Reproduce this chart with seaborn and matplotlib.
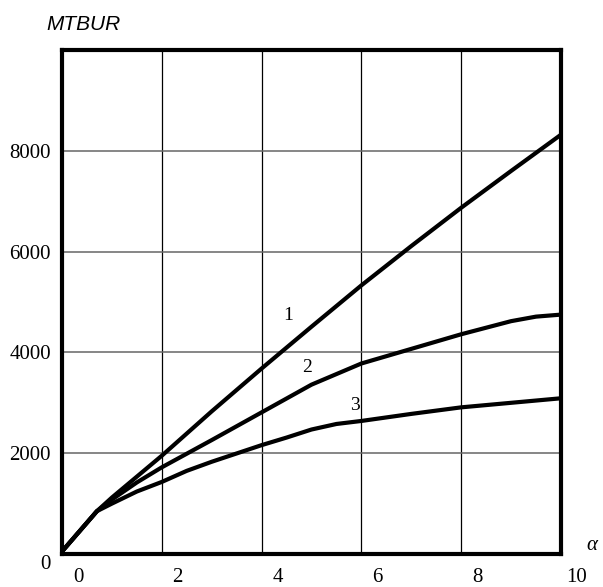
import numpy as np
import pandas as pd
import matplotlib
matplotlib.use('Agg')
import matplotlib.pyplot as plt
import matplotlib.transforms as mtransforms
import seaborn as sns

# values
alpha_1 = [0, 0.7, 1, 2, 3, 4, 5, 6, 7, 8, 9, 10]
mtbur_1 = [50, 850, 1120, 1950, 2830, 3680, 4510, 5330, 6110, 6870, 7600, 8320]

alpha_2 = [0, 0.7, 1, 1.5, 2, 2.5, 3, 4, 5, 6, 7, 8, 9, 9.5, 10]
mtbur_2 = [50, 850, 1080, 1420, 1720, 1990, 2260, 2810, 3360, 3780, 4070, 4360, 4620, 4710, 4750]

alpha_3 = [0, 0.7, 1, 1.5, 2, 2.5, 3, 4, 4.5, 5, 5.5, 6, 7, 8, 9, 10]
mtbur_3 = [50, 850, 1000, 1240, 1430, 1650, 1830, 2160, 2310, 2470, 2580, 2640, 2780, 2910, 3000, 3090]

curve_names = ['1', '2', '3']
label_pos = [(4.53, 4730), (4.91, 3700), (5.87, 2950)]

df = pd.concat([
    pd.DataFrame({'alpha': alpha_1, 'mtbur': mtbur_1, 'curve': '1'}),
    pd.DataFrame({'alpha': alpha_2, 'mtbur': mtbur_2, 'curve': '2'}),
    pd.DataFrame({'alpha': alpha_3, 'mtbur': mtbur_3, 'curve': '3'}),
])

sns.set_style('white')
plt.rcParams['font.family'] = ['Liberation Serif', 'DejaVu Serif']
plt.rcParams['text.color'] = 'black'
plt.rcParams['xtick.color'] = 'black'
plt.rcParams['ytick.color'] = 'black'

fig = plt.figure(figsize=(6.03, 5.87), dpi=100)
ax = fig.add_axes([0.1028, 0.0562, 0.8275, 0.8586])

sns.lineplot(data=df, x='alpha', y='mtbur', units='curve', estimator=None,
             color='black', linewidth=3, ax=ax, legend=False,
             solid_joinstyle='round', solid_capstyle='round')

for name, (x, y) in zip(curve_names, label_pos):
    ax.text(x, y, name, fontsize=14, ha='center', va='center')

ax.set_xlim(0, 10)
ax.set_ylim(0, 10000)
ax.set_xticks([0, 2, 4, 6, 8, 10])
ax.set_yticks([0, 2000, 4000, 6000, 8000])

for x in [2, 4, 6, 8]:
    ax.axvline(x, color='black', linewidth=0.9, zorder=0)
for y in [2000, 4000, 6000, 8000]:
    ax.axhline(y, color='#666666', linewidth=1.1, zorder=0)

for s in ax.spines.values():
    s.set_linewidth(3)
    s.set_color('black')

ax.tick_params(axis='both', length=0, labelsize=15, labelcolor='black')
ax.tick_params(axis='x', pad=10)
ax.tick_params(axis='y', pad=8)
ax.set_xlabel('')
ax.set_ylabel('')

# x tick labels sit a bit to the right of their grid lines
shift = mtransforms.ScaledTranslation(0.16, 0, fig.dpi_scale_trans)
for lab in ax.get_xticklabels():
    lab.set_transform(lab.get_transform() + shift)
ylabs = ax.get_yticklabels()
ylabs[0].set_transform(ylabs[0].get_transform() +
                       mtransforms.ScaledTranslation(0, -0.08, fig.dpi_scale_trans))

fig.text(46 / 603, 1 - 24 / 587, 'MTBUR', fontsize=15, fontstyle='italic',
         family=['Liberation Sans', 'DejaVu Sans'], ha='left', va='center')
fig.text(592 / 603, 1 - 546 / 587, 'α', fontsize=15, fontstyle='italic',
         ha='center', va='center')

fig.savefig('out.png', dpi=100)
